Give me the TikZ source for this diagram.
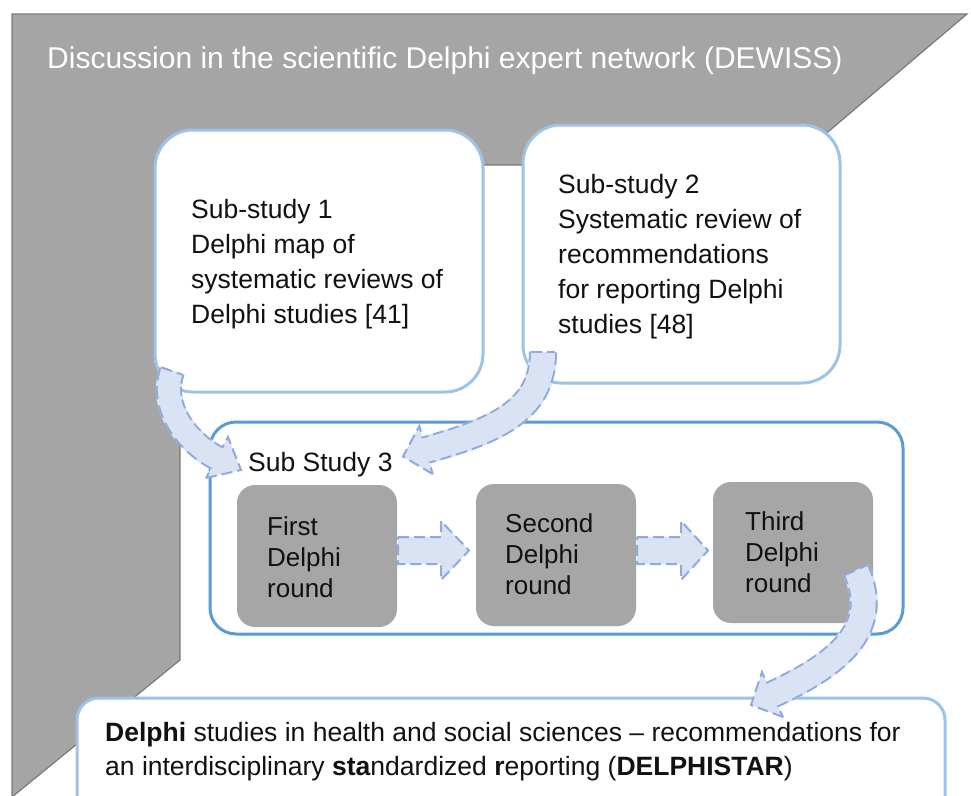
\documentclass[tikz,border=0pt]{standalone}
\usepackage{fontspec}
\setmainfont{Liberation Sans}
\usetikzlibrary{calc}
\definecolor{graybg}{HTML}{A5A5A5}
\definecolor{graybd}{HTML}{7A7A7A}
\definecolor{lblue}{HTML}{9DC3E6}
\definecolor{mblue}{HTML}{5B9BD5}
\definecolor{arrfill}{HTML}{DAE3F3}
\definecolor{arrline}{HTML}{8FAADC}
\definecolor{rgray}{HTML}{A6A6A6}
\definecolor{txtc}{HTML}{111111}
\begin{document}
\begin{tikzpicture}[x=1pt,y=-1pt,
  txt/.style={inner sep=0pt, anchor=base west, font=\fontsize{26.5}{35}\selectfont, text=txtc},
  rtxt/.style={txt, font=\fontsize{26}{31}\selectfont},
  lbbox/.style={draw=lblue, line width=3pt, fill=white, rounded corners=38pt},
  s3box/.style={draw=mblue, line width=3pt, fill=white, rounded corners=26pt},
  rbox/.style={fill=rgray, rounded corners=18pt, minimum width=160pt, minimum height=142pt},
  aline/.style={draw=arrline, line width=2pt, dash pattern=on 11pt off 5pt},
  afill/.style={fill=arrfill}]
\clip (0,0) rectangle (971,795);
\fill[white] (0,0) rectangle (971,795);
% background shape
\filldraw[fill=graybg, draw=graybd, line width=1.2pt] (12,14) -- (967,14) -- (789,165) -- (180,165) -- (180,660) -- (12,797) -- cycle;
\node[txt, text=white, font=\fontsize{30}{36}\selectfont] (title) at (47,68) {Discussion in the scientific Delphi expert network (DEWISS)};
% sub-study boxes
\node[lbbox, minimum width=328pt, minimum height=262pt] (s1) at (319,261) {};
\node[txt] (s1t) at (191,218) {\begin{tabular}[t]{@{}l@{}}Sub-study 1\\Delphi map of\\systematic reviews of\\Delphi studies [41]\end{tabular}};
\node[lbbox, minimum width=317pt, minimum height=258pt] (s2) at (681.5,254) {};
\node[txt] (s2t) at (558,193) {\begin{tabular}[t]{@{}l@{}}Sub-study 2\\Systematic review of\\recommendations\\for reporting Delphi\\studies [48]\end{tabular}};
% sub study 3
\node[s3box, minimum width=693pt, minimum height=212pt] (s3) at (556.5,528) {};
\node[txt] (s3t) at (248,471) {Sub Study 3};
\node[rbox] (r1) at (317,556) {};
\node[rtxt] (r1t) at (267,535) {\begin{tabular}[t]{@{}l@{}}First\\Delphi\\round\end{tabular}};
\node[rbox] (r2) at (556,555) {};
\node[rtxt] (r2t) at (505,532) {\begin{tabular}[t]{@{}l@{}}Second\\Delphi\\round\end{tabular}};
\node[rbox, minimum height=141pt] (r3) at (793,552.5) {};
\node[rtxt] (r3t) at (745,530) {\begin{tabular}[t]{@{}l@{}}Third\\Delphi\\round\end{tabular}};
% final box
\node[lbbox, rounded corners=22pt, minimum width=868pt, minimum height=142pt] (fin) at (511,769) {};
\node[txt, font=\fontsize{26.5}{34}\selectfont] (fint) at (105,741) {\begin{tabular}[t]{@{}l@{}}\textbf{Delphi} studies in health and social sciences -- recommendations for\\an interdisciplinary \textbf{sta}ndardized \textbf{r}eporting (\textbf{DELPHISTAR})\end{tabular}};
% straight arrows
\filldraw[afill, aline] (398,537) -- (441,537) -- (441,521) -- (469,550.5) -- (441,580) -- (441,564) -- (398,564) -- cycle;
\filldraw[afill, aline] (637,537) -- (681,537) -- (681,521) -- (708,550.5) -- (681,580) -- (681,564) -- (637,564) -- cycle;
% curved arrow 1
\coordinate (a1s) at (172,371);
\coordinate (a1m) at (217,458);
\coordinate (a1t) at (241,470);
\coordinate (a1b1) at (206,478);
\coordinate (a1b2) at (228,437);
\coordinate (a1e1) at (161.6,367.4);
\coordinate (a1e2) at (182.4,374.6);
\draw[arrfill, line width=26pt] (a1s) .. controls (159,409) and (190,444) .. (a1m);
\draw[arrline, line width=26pt, dash pattern=on 11pt off 5pt] (a1s) .. controls (159,409) and (190,444) .. (a1m);
\filldraw[afill, aline] (a1b1) -- (a1t) -- (a1b2) -- cycle;
\draw[arrfill, line width=22pt] (a1s) .. controls (159,409) and (190,444) .. (a1m) -- ($(a1m)!3pt!(a1t)$);
\draw[aline] (a1e1) -- (a1e2);
% curved arrow 2
\coordinate (a2s) at (543,352);
\coordinate (a2m) at (426,450);
\coordinate (a2t) at (403,456.5);
\coordinate (a2b1) at (432.7,474);
\coordinate (a2b2) at (419.3,426);
\coordinate (a2e1) at (531,352);
\coordinate (a2e2) at (555,352);
\draw[arrfill, line width=28pt] (a2s) .. controls (543,412) and (493,431) .. (a2m);
\draw[arrline, line width=28pt, dash pattern=on 11pt off 5pt] (a2s) .. controls (543,412) and (493,431) .. (a2m);
\filldraw[afill, aline] (a2b1) -- (a2t) -- (a2b2) -- cycle;
\draw[arrfill, line width=24pt] (a2s) .. controls (543,412) and (493,431) .. (a2m) -- ($(a2m)!3pt!(a2t)$);
\draw[aline] (a2e1) -- (a2e2);
% curved arrow 3
\coordinate (a3s) at (856,570);
\coordinate (a3m) at (772.5,694.5);
\coordinate (a3t) at (751,705);
\coordinate (a3b1) at (783,717);
\coordinate (a3b2) at (762,672);
\coordinate (a3e1) at (845,575);
\coordinate (a3e2) at (867,565);
\draw[arrfill, line width=28pt] (a3s) .. controls (885,634) and (827,669) .. (a3m);
\draw[arrline, line width=28pt, dash pattern=on 11pt off 5pt] (a3s) .. controls (885,634) and (827,669) .. (a3m);
\filldraw[afill, aline] (a3b1) -- (a3t) -- (a3b2) -- cycle;
\draw[arrfill, line width=24pt] (a3s) .. controls (885,634) and (827,669) .. (a3m) -- ($(a3m)!3pt!(a3t)$);
\draw[aline] (a3e1) -- (a3e2);
\end{tikzpicture}
\end{document}
